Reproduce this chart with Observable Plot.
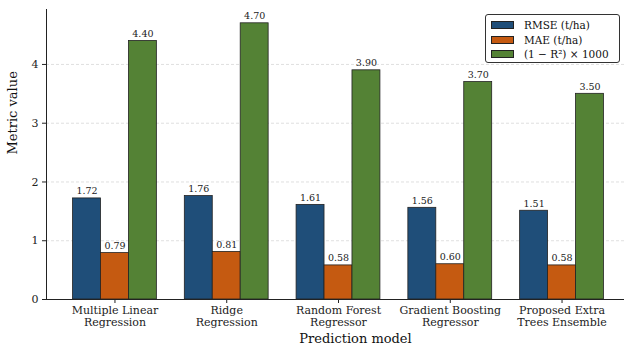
<!DOCTYPE html>
<html>
<head>
<meta charset="utf-8">
<script src="https://cdn.jsdelivr.net/npm/d3@7"></script>
<script src="https://cdn.jsdelivr.net/npm/@observablehq/plot@0.6"></script>
<style>
  html, body { margin: 0; padding: 0; background: #fff; overflow: hidden; }
  #wrap { position: relative; width: 624px; height: 347px; font-family: "DejaVu Serif", serif; }
  #legend {
    position: absolute; left: 485px; top: 14px; width: 135px; height: 49px;
    border: 1px solid #333; border-radius: 3px; background: #fff;
    font-size: 10.5px; color: #111; box-sizing: border-box; padding: 3px 0 0 5px;
  }
  #legend .row { display: flex; align-items: center; height: 14.5px; }
  #legend .sw { width: 23px; height: 8px; margin-right: 10px; border: 0.7px solid #222; box-sizing: border-box; }
</style>
</head>
<body>
<div id="wrap">
  <div id="chart"></div>
  <div id="legend"></div>
</div>
<script>
// Model names, two-line tick labels
const models = [
  "Multiple Linear\nRegression",
  "Ridge\nRegression",
  "Random Forest\nRegressor",
  "Gradient Boosting\nRegressor",
  "Proposed Extra\nTrees Ensemble"
];
const rmse = [1.72, 1.76, 1.61, 1.56, 1.51];
const mae = [0.79, 0.81, 0.58, 0.60, 0.58];
const r2x1000 = [4.40, 4.70, 3.90, 3.70, 3.50];
const yTicks = [0, 1, 2, 3, 4];

const seriesNames = ["RMSE (t/ha)", "MAE (t/ha)", "(1 − R²) × 1000"];
const seriesColors = ["#1f4e79", "#c55a11", "#548235"];
const seriesValues = [rmse, mae, r2x1000];

// Grouped bars: each model sits at integer position, bars of width 0.25
const barW = 0.25;
const rows = [];
seriesValues.forEach((vals, s) => {
  vals.forEach((v, i) => {
    const c = i + (s - 1) * barW;
    rows.push({i, s, x1: c - barW / 2, x2: c + barW / 2, xc: c, value: v, series: seriesNames[s]});
  });
});

const chart = Plot.plot({
  width: 624,
  height: 347,
  marginLeft: 46,
  marginRight: 0,
  marginTop: 9,
  marginBottom: 48,
  style: {fontFamily: "DejaVu Serif, serif", fontSize: "11px", color: "#222", overflow: "visible"},
  x: {domain: [-0.6125, 4.6125], range: [46, 630]},
  y: {domain: [0, 4.935]},
  color: {domain: seriesNames, range: seriesColors},
  marks: [
    Plot.ruleY(yTicks.slice(1), {stroke: "#bbb", strokeWidth: 0.6, strokeDasharray: "3,2", strokeOpacity: 0.8}),
    Plot.rectY(rows, {x1: "x1", x2: "x2", y: "value", fill: "series", stroke: "#222", strokeWidth: 0.8}),
    Plot.text(rows, {x: "xc", y: "value", text: d => d.value.toFixed(2), dy: -7, fontSize: 9.5, fill: "#222"}),
    Plot.axisY({ticks: yTicks, tickFormat: d3.format("d"), tickSize: 4, tickPadding: 4, label: null, fontSize: 11}),
    Plot.axisX({ticks: [0, 1, 2, 3, 4], tickFormat: i => models[i], tickSize: 4, tickPadding: 2, lineHeight: 1.1, label: null, fontSize: 11}),
    Plot.ruleY([0], {stroke: "#222", strokeWidth: 1}),
    Plot.ruleX([-0.6125], {stroke: "#222", strokeWidth: 1}),
    Plot.text(["Metric value"], {frameAnchor: "left", dx: -34, rotate: -90, fontSize: 13, fill: "#111"}),
    Plot.text(["Prediction model"], {frameAnchor: "bottom", dy: 43, dx: 20, fontSize: 13, fill: "#111"})
  ]
});
document.getElementById("chart").append(chart);

// Legend box
const legend = document.getElementById("legend");
seriesNames.forEach((name, s) => {
  const row = document.createElement("div");
  row.className = "row";
  const sw = document.createElement("div");
  sw.className = "sw";
  sw.style.background = seriesColors[s];
  const lab = document.createElement("span");
  lab.textContent = name;
  row.append(sw, lab);
  legend.append(row);
});
</script>
</body>
</html>
